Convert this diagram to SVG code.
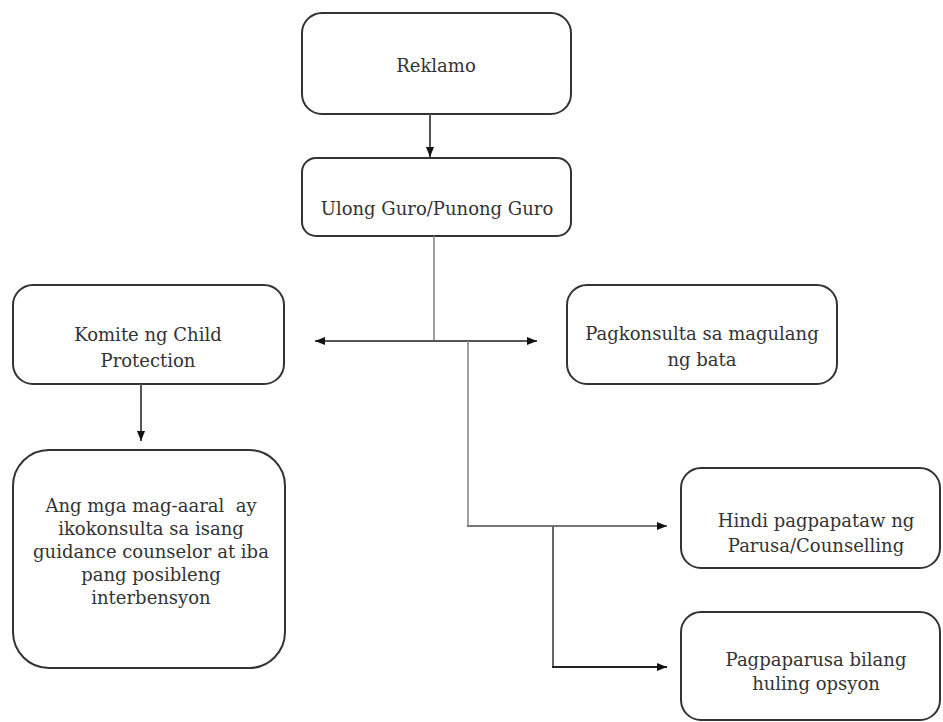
<svg xmlns="http://www.w3.org/2000/svg" width="943" height="722" viewBox="0 0 943 722">
<style>
.box{fill:#fff;stroke:#333;stroke-width:2}
text{font-family:'DejaVu Serif',serif;font-size:18px;fill:#333;text-anchor:middle}
.c{fill:none;stroke:#555;stroke-width:2}
.cl{fill:none;stroke:#888;stroke-width:1.6}
</style>
<defs>
<marker id="ah" markerUnits="userSpaceOnUse" markerWidth="12" markerHeight="10" refX="10" refY="5" orient="auto-start-reverse" viewBox="0 0 12 10">
<path d="M0,1 L10,5 L0,9 Z" fill="#111"/>
</marker>
</defs>
<rect width="943" height="722" fill="#fff"/>
<g id="reklamo"><rect class="box" x="302" y="13" width="269" height="101" rx="20"/><text x="436" y="72">Reklamo</text></g>
<g id="ulong"><rect class="box" x="302" y="158" width="269" height="78" rx="14"/><text x="437" y="215">Ulong Guro/Punong Guro</text></g>
<g id="komite"><rect class="box" x="13" y="285" width="271" height="99" rx="20"/><text x="148" y="341">Komite ng Child</text><text x="148" y="367">Protection</text></g>
<g id="pagkonsulta"><rect class="box" x="567" y="285" width="270" height="99" rx="20"/><text x="702" y="340">Pagkonsulta sa magulang</text><text x="702" y="366">ng bata</text></g>
<g id="angmga"><rect class="box" x="13" y="450" width="272" height="218" rx="36"/><text x="151" y="512" xml:space="preserve">Ang mga mag-aaral  ay</text><text x="151" y="535">ikokonsulta sa isang</text><text x="151" y="558">guidance counselor at iba</text><text x="151" y="581">pang posibleng</text><text x="151" y="604">interbensyon</text></g>
<g id="hindi"><rect class="box" x="681" y="468" width="259" height="100" rx="20"/><text x="816" y="527">Hindi pagpapataw ng</text><text x="816" y="552">Parusa/Counselling</text></g>
<g id="pagpaparusa"><rect class="box" x="681" y="612" width="259" height="108" rx="20"/><text x="816" y="666">Pagpaparusa bilang</text><text x="816" y="690">huling opsyon</text></g>
<g id="connectors">
<line class="c" x1="430" y1="114" x2="430" y2="157" marker-end="url(#ah)"/>
<line class="cl" x1="434" y1="236" x2="434" y2="341"/>
<line class="c" x1="315" y1="341" x2="537" y2="341" marker-start="url(#ah)" marker-end="url(#ah)"/>
<line class="cl" x1="468" y1="341" x2="468" y2="526"/>
<line class="c" x1="467" y1="526" x2="667" y2="526" style="stroke:#777" marker-end="url(#ah)"/>
<line class="c" x1="553" y1="526" x2="553" y2="667" style="stroke:#666"/>
<line class="c" x1="552" y1="667" x2="667" y2="667" style="stroke:#222" marker-end="url(#ah)"/>
<line class="c" x1="141" y1="384" x2="141" y2="441" marker-end="url(#ah)"/>
</g>
</svg>
